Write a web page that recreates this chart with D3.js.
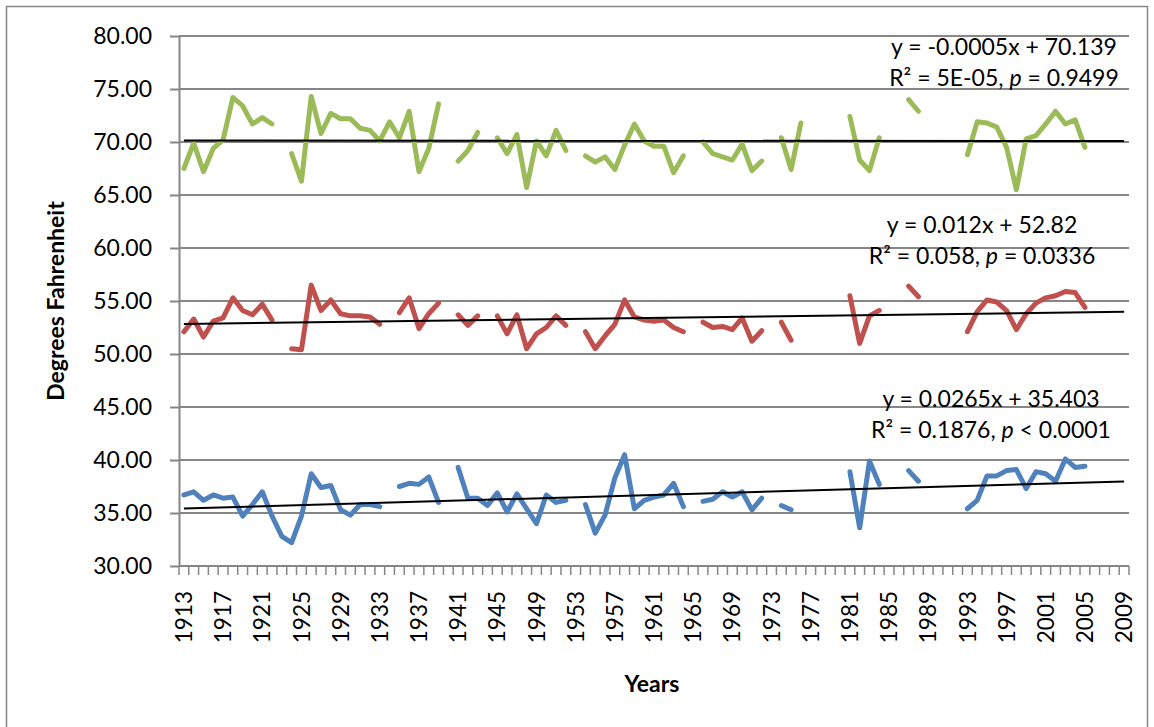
<!DOCTYPE html>
<html>
<head>
<meta charset="utf-8">
<script src="https://cdn.jsdelivr.net/npm/d3@7"></script>
<style>
  html, body { margin: 0; padding: 0; background: #fff; }
  svg { display: block; }
  text { font-family: Lato, "Open Sans", sans-serif; fill: #000; }
</style>
</head>
<body>
<svg id="chart" width="1154" height="727"></svg>
<script>
// Years on the category axis
const years = [
  1913,1914,1915,1916,1917,1918,1919,1920,1921,1922,1923,1924,1925,1926,1927,1928,1929,1930,
  1931,1932,1933,1934,1935,1936,1937,1938,1939,1940,1941,1942,1943,1944,1945,1946,1947,1948,
  1949,1950,1951,1952,1953,1954,1955,1956,1957,1958,1959,1960,1961,1962,1963,1964,1965,1966,
  1967,1968,1969,1970,1971,1972,1973,1974,1975,1976,1977,1978,1979,1980,1981,1982,1983,1984,
  1985,1986,1987,1988,1989,1990,1991,1992,1993,1994,1995,1996,1997,1998,1999,2000,2001,2002,
  2003,2004,2005,2006,2007,2008,2009
];

// Labelled years (every fourth category)
const yearLabels = [1913,1917,1921,1925,1929,1933,1937,1941,1945,1949,1953,1957,1961,1965,
  1969,1973,1977,1981,1985,1989,1993,1997,2001,2005,2009];

// Value axis ticks
const yTicks = [30,35,40,45,50,55,60,65,70,75,80];

// Upper series (°F), null = no record
const summerTemps = [
  67.5,69.9,67.2,69.4,70.2,74.2,73.4,71.7,72.3,71.7,null,68.9,66.3,74.3,70.8,72.7,72.2,72.2,
  71.3,71.1,70.1,71.9,70.4,72.9,67.2,69.4,73.6,null,68.2,69.2,70.9,null,70.4,68.9,70.7,65.7,
  70.1,68.7,71.1,69.2,null,68.7,68.1,68.6,67.4,69.7,71.7,70.1,69.6,69.6,67.1,68.7,null,70.0,
  68.9,68.6,68.3,69.8,67.3,68.2,null,70.4,67.4,71.8,null,null,null,null,72.4,68.3,67.3,70.4,
  null,null,74.0,72.9,null,null,null,null,68.8,71.9,71.8,71.4,69.5,65.5,70.3,70.6,71.7,72.9,
  71.7,72.1,69.5,null,null,null,null
];

// Middle series (°F)
const annualTemps = [
  52.1,53.3,51.6,53.1,53.4,55.3,54.1,53.7,54.7,53.2,null,50.5,50.4,56.5,54.1,55.1,53.8,53.6,
  53.6,53.5,52.8,null,53.9,55.3,52.4,53.8,54.8,null,53.7,52.7,53.6,null,53.6,51.9,53.7,50.5,
  51.9,52.5,53.6,52.7,null,52.1,50.5,51.7,52.8,55.1,53.5,53.2,53.1,53.2,52.5,52.1,null,53.0,
  52.5,52.6,52.3,53.4,51.2,52.2,null,53.0,51.3,null,null,null,null,null,55.5,51.0,53.6,54.1,
  null,null,56.4,55.4,null,null,null,null,52.1,54.0,55.1,54.9,54.1,52.3,53.8,54.8,55.3,55.5,
  55.9,55.8,54.4,null,null,null,null
];

// Lower series (°F)
const winterTemps = [
  36.7,37.0,36.2,36.7,36.4,36.5,34.7,35.8,37.0,34.7,32.8,32.2,34.7,38.7,37.4,37.6,35.3,34.8,
  35.8,35.8,35.6,null,37.5,37.8,37.7,38.4,36.0,null,39.3,36.4,36.4,35.7,36.9,35.1,36.8,35.4,
  34.0,36.7,36.0,36.2,null,35.8,33.1,34.8,38.3,40.5,35.4,36.2,36.5,36.7,37.8,35.6,null,36.1,
  36.3,37.0,36.5,37.0,35.3,36.4,null,35.7,35.3,null,null,null,null,null,38.9,33.6,39.9,37.7,
  null,null,39.0,38.0,null,null,null,null,35.4,36.2,38.5,38.5,39.0,39.1,37.3,38.9,38.7,38.0,
  40.1,39.3,39.4,null,null,null,null
];

// Linear trend fits: y = slope * x + intercept, x = category number (1..97)
const trendSlopes     = [-0.0005, 0.012, 0.0265];
const trendIntercepts = [70.139, 52.82, 35.403];
const trendEquations  = ["y = -0.0005x + 70.139", "y = 0.012x + 52.82", "y = 0.0265x + 35.403"];
const trendStats = [
  ["R² = 5E-05, ", "p", " = 0.9499"],
  ["R² = 0.058, ", "p", " = 0.0336"],
  ["R² = 0.1876, ", "p", " < 0.0001"]
];

const seriesValues = [summerTemps, annualTemps, winterTemps];
const seriesColors = ["#9BBB59", "#C0504D", "#4F81BD"];
const labelCenters = [[1004, 55], [982, 233], [991, 407]];

const svg = d3.select("#chart");
const plot = { left: 179, right: 1129, top: 36, bottom: 566 };
const gridColor = "#868686";

// outer chart frame
svg.append("rect")
  .attr("x", 6.5).attr("y", 6.5)
  .attr("width", 1141).attr("height", 740)
  .attr("fill", "none").attr("stroke", gridColor).attr("stroke-width", 1.5);

const x = d3.scaleBand().domain(years).range([plot.left, plot.right]).padding(0);
const cx = yr => x(yr) + x.bandwidth() / 2;
const y = d3.scaleLinear().domain([30, 80]).range([plot.bottom, plot.top]);

// horizontal gridlines
svg.append("g").selectAll("line").data(yTicks.filter(t => t > 30)).join("line")
  .attr("x1", plot.left).attr("x2", plot.right)
  .attr("y1", d => y(d)).attr("y2", d => y(d))
  .attr("stroke", gridColor).attr("stroke-width", 2);

// value axis
const yAxis = d3.axisLeft(y).tickValues(yTicks).tickFormat(d3.format(".2f"))
  .tickSizeInner(9).tickSizeOuter(0).tickPadding(18);
const gy = svg.append("g").attr("transform", `translate(${plot.left},0)`).call(yAxis);
gy.select(".domain").attr("stroke", gridColor).attr("stroke-width", 2);
gy.selectAll(".tick line").attr("stroke", gridColor).attr("stroke-width", 2);
gy.selectAll(".tick text").attr("font-size", 23).attr("font-family", "Lato").attr("fill", "#000");

// category axis: ticks between categories, labels every fourth year
const boundaries = years.map(yr => x(yr)).concat([plot.right]);
svg.append("g").selectAll("line").data(boundaries).join("line")
  .attr("x1", d => d).attr("x2", d => d)
  .attr("y1", plot.bottom).attr("y2", plot.bottom + 9)
  .attr("stroke", gridColor).attr("stroke-width", 1.5);
svg.append("line")
  .attr("x1", plot.left).attr("x2", plot.right)
  .attr("y1", plot.bottom).attr("y2", plot.bottom)
  .attr("stroke", gridColor).attr("stroke-width", 2);

svg.append("g").selectAll("text").data(yearLabels).join("text")
  .attr("transform", d => `translate(${cx(d)},591) rotate(-90)`)
  .attr("text-anchor", "end").attr("dy", "0.36em")
  .attr("font-size", 22.5)
  .text(d => d);

// series lines
const line = d3.line()
  .defined(d => d.v !== null)
  .x(d => cx(d.yr))
  .y(d => y(d.v));

seriesValues.forEach((vals, i) => {
  const pts = years.map((yr, j) => ({ yr, v: vals[j] }));
  svg.append("path").datum(pts)
    .attr("d", line)
    .attr("fill", "none")
    .attr("stroke", seriesColors[i])
    .attr("stroke-width", 5)
    .attr("stroke-linejoin", "round")
    .attr("stroke-linecap", "round");
});

// trend lines across all categories
trendSlopes.forEach((m, i) => {
  const b = trendIntercepts[i];
  const first = years[0], last = years[years.length - 1];
  svg.append("line")
    .attr("x1", cx(first)).attr("y1", y(m * 1 + b))
    .attr("x2", cx(last)).attr("y2", y(m * years.length + b))
    .attr("stroke", "#000").attr("stroke-width", 2);
});

// trend equations
trendEquations.forEach((eq, i) => {
  const [lx, ly] = labelCenters[i];
  svg.append("text").attr("x", lx).attr("y", ly)
    .attr("text-anchor", "middle").attr("font-size", 23).text(eq);
  const t = svg.append("text").attr("x", lx).attr("y", ly + 31)
    .attr("text-anchor", "middle").attr("font-size", 23);
  t.append("tspan").text(trendStats[i][0]);
  t.append("tspan").attr("font-style", "italic").text(trendStats[i][1]);
  t.append("tspan").text(trendStats[i][2]);
});

// axis titles
svg.append("text")
  .attr("transform", `translate(64,301) rotate(-90)`)
  .attr("text-anchor", "middle").attr("font-size", 23).attr("font-weight", "bold")
  .text("Degrees Fahrenheit");
svg.append("text")
  .attr("x", 652).attr("y", 692)
  .attr("text-anchor", "middle").attr("font-size", 23).attr("font-weight", "bold")
  .text("Years");
</script>
</body>
</html>
